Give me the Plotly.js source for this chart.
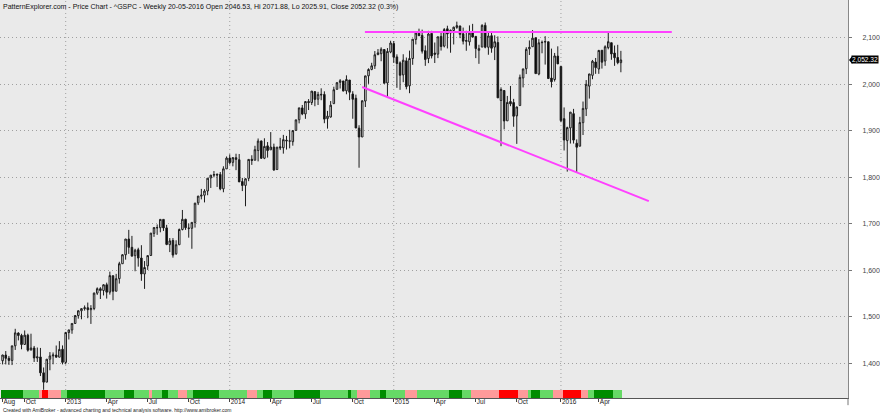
<!DOCTYPE html>
<html><head><meta charset="utf-8">
<script src="https://cdn.plot.ly/plotly-3.0.1.min.js"></script>
<style>html,body{margin:0;padding:0;background:#fff;}#chart{width:880px;height:413px;}</style>
</head><body><div id="chart"></div>
<script>
// ---- data (weekly ^GSPC, first bar week ending 2012-08-17) ----
const startDate = '2012-08-17';
const opens = [
1405.9,1418.1,1411.1,1406.5,1438.0,1465.4,1460.3,1440.9,1460.9,1428.8,
1433.2,1411.9,1414.0,1379.9,1359.9,1409.2,1416.3,1418.1,1413.5,1430.6,
1402.4,1466.5,1472.1,1486.0,1503.0,1513.2,1517.9,1519.8,1515.6,1518.2,
1551.2,1560.7,1556.9,1569.2,1553.3,1588.6,1555.3,1582.3,1614.4,1633.7,
1667.5,1649.6,1631.7,1644.5,1626.7,1592.4,1609.8,1632.0,1679.6,1692.1,
1691.7,1709.7,1691.4,1655.3,1664.3,1635.9,1655.2,1688.0,1709.9,1691.0,
1690.5,1703.2,1745.2,1759.7,1761.6,1770.7,1798.8,1804.8,1806.6,1806.4,
1775.4,1818.3,1841.5,1832.3,1842.3,1837.9,1791.0,1782.7,1798.0,1838.8,
1836.8,1857.7,1878.3,1841.1,1867.7,1859.2,1865.1,1816.8,1865.8,1863.6,
1880.0,1878.3,1876.7,1900.9,1923.9,1949.3,1936.3,1962.9,1960.8,1984.2,
1968.0,1976.9,1978.3,1926.3,1929.8,1958.4,1989.3,2004.1,2007.2,1986.0,
2009.1,1979.0,1970.0,1905.7,1886.8,1964.0,2018.2,2032.0,2039.7,2064.0,
2065.8,2074.8,2002.9,2069.3,2087.6,2058.9,2046.1,2020.2,2050.4,1996.7,
2055.5,2096.5,2109.8,2105.2,2072.3,2055.4,2109.3,2064.1,2064.9,2102.9,
2082.1,2119.3,2110.2,2115.6,2122.3,2125.3,2108.6,2092.3,2091.3,2110.6,
2103.0,2073.0,2080.0,2126.8,2079.6,2104.5,2080.0,2089.7,1965.2,1986.7,
1921.5,1963.1,1960.8,1932.2,1954.3,2013.7,2033.5,2076.3,2080.8,2100.0,
2022.1,2089.4,2090.9,2091.4,2013.4,2010.3,2060.6,2038.2,1926.1,1878.9,
1906.3,1936.9,1873.3,1867.0,1917.6,1947.1,1996.1,2019.3,2047.9,2032.9,
2073.2,2050.1,2078.8,2089.4,2067.2,2057.6,2046.53];
const highs = [
1418.7,1426.7,1416.2,1438.0,1474.5,1467.1,1463.8,1471.0,1464.0,1464.0,
1437.7,1434.3,1433.4,1391.4,1409.2,1424.5,1423.7,1438.6,1448.0,1438.8,
1467.9,1472.3,1486.0,1503.3,1514.4,1518.3,1524.7,1530.9,1525.3,1552.5,
1563.6,1564.0,1570.3,1573.7,1597.4,1588.9,1592.6,1618.5,1635.0,1667.5,
1687.2,1674.2,1646.5,1648.7,1654.2,1620.1,1631.9,1680.2,1693.1,1698.8,
1709.7,1709.7,1697.9,1669.5,1669.5,1664.8,1690.0,1729.9,1711.0,1700.7,
1703.4,1745.3,1759.8,1775.2,1774.5,1798.2,1804.8,1813.6,1808.4,1811.5,
1823.8,1844.9,1849.4,1843.2,1850.8,1850.2,1798.8,1798.0,1838.6,1847.5,
1867.9,1883.6,1878.9,1884.0,1875.9,1897.3,1872.5,1865.4,1884.9,1891.3,
1889.1,1902.2,1901.3,1924.0,1949.4,1955.6,1963.9,1968.2,1985.6,1985.6,
1983.9,1991.4,1984.9,1942.9,1964.0,1994.8,2005.0,2011.2,2007.2,2019.3,
2009.1,1985.2,1977.8,1912.1,1965.3,2018.2,2034.3,2046.2,2071.5,2075.8,
2079.5,2075.8,2077.9,2093.6,2093.0,2064.4,2049.3,2064.6,2057.6,2072.4,
2097.0,2110.6,2119.6,2117.5,2083.5,2114.9,2114.9,2089.8,2102.6,2111.9,
2120.9,2125.9,2117.7,2123.9,2134.7,2126.2,2121.9,2115.0,2126.6,2129.9,
2103.0,2085.0,2129.2,2132.8,2114.2,2112.7,2105.4,2102.9,1993.5,1986.7,
1975.0,1996.5,1968.7,1951.4,2020.9,2033.5,2079.7,2094.3,2116.5,2100.0,
2097.1,2094.1,2103.4,2091.5,2076.7,2067.4,2081.6,2038.2,1950.3,1908.9,
1940.2,1947.2,1881.6,1930.1,1963.0,2009.1,2022.4,2052.4,2056.6,2074.0,
2073.2,2083.8,2111.1,2089.4,2083.4,2084.9,2071.88];
const lows = [
1398.0,1398.0,1397.0,1396.6,1429.1,1449.6,1430.5,1440.9,1425.5,1428.6,
1403.3,1403.3,1373.0,1343.4,1359.9,1385.4,1398.2,1412.9,1413.5,1398.1,
1398.1,1451.6,1463.8,1485.0,1496.3,1495.0,1513.6,1497.3,1485.0,1514.5,
1547.4,1538.6,1546.2,1539.5,1548.0,1536.0,1555.3,1571.7,1614.4,1623.1,
1635.5,1630.7,1598.2,1608.1,1577.7,1560.3,1601.1,1632.0,1672.1,1676.5,
1681.9,1684.9,1654.2,1639.4,1627.5,1633.4,1655.2,1686.0,1687.1,1670.4,
1646.5,1692.1,1740.5,1752.7,1746.2,1761.6,1777.2,1800.1,1779.4,1772.3,
1768.0,1818.3,1827.7,1823.7,1815.5,1790.3,1770.5,1737.9,1791.8,1826.8,
1836.8,1834.4,1839.6,1839.2,1842.5,1859.2,1814.4,1816.3,1858.7,1851.0,
1859.8,1862.4,1868.1,1900.9,1916.0,1933.6,1925.8,1944.7,1955.6,1952.9,
1955.5,1965.8,1916.4,1904.8,1928.3,1958.4,1988.6,1991.0,1985.2,1978.6,
1966.0,1926.0,1906.1,1820.7,1886.8,1951.2,2001.0,2030.2,2033.0,2062.3,
2049.6,2002.1,1972.6,2066.8,2046.0,1992.4,1988.1,2004.5,1989.2,1980.9,
2041.9,2085.6,2103.8,2066.1,2039.7,2045.5,2055.6,2045.8,2056.3,2072.5,
2079.3,2077.1,2067.9,2085.6,2119.3,2099.2,2085.7,2072.1,2083.3,2101.1,
2056.3,2044.0,2080.0,2077.4,2063.5,2067.9,2052.1,1970.9,1867.0,1903.1,
1921.5,1953.0,1908.8,1872.0,1954.3,1993.3,2022.0,2063.0,2080.8,2022.9,
2019.4,2066.7,2042.4,2012.4,1993.3,2005.9,2043.6,1918.5,1857.8,1812.3,
1872.7,1872.7,1810.1,1866.8,1891.0,1931.8,1969.3,2010.9,2022.5,2022.5,
2033.8,2039.7,2075.2,2052.7,2039.7,2043.1,2025.91];
const closes = [
1418.2,1411.1,1406.6,1437.9,1465.8,1460.2,1440.7,1460.9,1428.6,1433.2,
1411.9,1414.2,1379.9,1359.9,1409.2,1416.2,1418.1,1413.6,1430.2,1402.4,
1466.5,1472.1,1486.0,1503.0,1513.2,1517.9,1519.8,1515.6,1518.2,1551.2,
1560.7,1556.9,1569.2,1553.3,1588.9,1555.3,1582.2,1614.4,1633.7,1667.5,
1649.6,1630.7,1643.4,1626.7,1592.4,1606.3,1631.9,1680.2,1692.1,1691.7,
1709.7,1691.4,1655.8,1663.5,1633.0,1655.2,1688.0,1709.9,1691.8,1690.5,
1703.2,1744.5,1759.8,1761.6,1770.6,1798.2,1804.8,1805.8,1805.1,1775.3,
1818.3,1841.4,1831.4,1842.4,1838.7,1790.3,1782.6,1797.0,1838.6,1836.3,
1859.5,1878.0,1841.1,1866.5,1857.6,1865.1,1815.7,1864.9,1863.4,1881.1,
1878.5,1877.9,1900.5,1923.6,1949.4,1936.2,1962.9,1961.0,1985.4,1967.6,
1978.2,1978.3,1925.2,1931.6,1955.1,1988.4,2003.4,2007.7,1985.5,2010.4,
1982.9,1967.9,1906.1,1886.8,1964.6,2018.1,2031.9,2039.8,2063.5,2067.6,
2075.4,2002.3,2070.7,2088.8,2058.2,2044.8,2019.4,2051.8,1995.0,2055.5,
2097.0,2110.3,2104.5,2071.3,2053.4,2108.1,2061.0,2067.0,2102.1,2081.2,
2117.7,2108.3,2116.1,2122.7,2126.1,2107.4,2092.8,2094.1,2110.0,2101.5,
2076.8,2076.6,2126.6,2079.7,2103.8,2077.6,2091.5,1970.9,1988.9,1921.2,
1961.1,1958.0,1931.3,1951.4,2014.9,2033.1,2075.2,2079.4,2099.2,2023.0,
2089.2,2090.1,2091.7,2012.4,2005.6,2061.0,2043.9,1922.0,1880.3,1906.9,
1940.2,1880.1,1864.8,1917.8,1948.1,2000.0,2022.2,2049.6,2035.9,2072.8,
2047.6,2080.7,2091.6,2065.3,2057.1,2046.6,2052.32];

// indicator ribbon: [state, number of weeks]  D=dark green, L=light green, P=pink, R=red
const ribbonRuns = [
['D',7],['L',5],['P',1],['R',2],['P',4],['L',2],['D',12],['L',6],['D',3],['L',5],
['P',1],['L',3],['D',2],['L',3],['P',3],['L',2],['D',8],['L',9],['P',3],['L',2],
['D',3],['L',7],['D',8],['L',9],['D',1],['L',2],['P',4],['L',3],['D',2],['L',6],
['P',4],['L',10],['D',4],['L',3],['P',9],['R',6],['P',3],['L',1],['D',3],['L',4],
['P',3],['R',6],['P',2],['L',2],['D',6],['L',3]];
const ribbonColors = {D:'#008c00', L:'#66d966', P:'#ff9a9a', R:'#ff0000'};

const tickDates = ['2012-08-17','2012-10-05','2013-01-04','2013-04-05','2013-07-05','2013-10-04',
 '2014-01-03','2014-04-04','2014-07-04','2014-10-03','2015-01-02','2015-04-03','2015-07-03',
 '2015-10-02','2016-01-08','2016-04-01'];
const tickLabels = ['Aug','Oct','2013','Apr','Jul','Oct','2014','Apr','Jul','Oct','2015','Apr','Jul','Oct','2016','Apr'];
const yearTickDates = ['2013-01-04','2014-01-03','2015-01-02','2016-01-08'];
const yTicks = [1400,1500,1600,1700,1800,1900,2000,2100];

const resistanceDates = ['2014-10-30','2016-09-10'];
const resistanceValues = [2112.4, 2112.4];
const supportDates = ['2014-10-24','2016-07-21'];
const supportValues = [1994.2, 1749.0];
const lastClose = 2052.32;

const titleText = 'PatternExplorer.com - Price Chart - ^GSPC - Weekly 20-05-2016 Open 2046.53, Hi 2071.88, Lo 2025.91, Close 2052.32 (0.3%)';
const creditText = 'Created with AmiBroker - advanced charting and technical analysis software. http://www.amibroker.com';

// ---- build ----
const DAY = 86400000, WEEK = 7*DAY;
const t0 = Date.parse(startDate + 'T00:00:00Z');
const fmt = t => new Date(t).toISOString().replace('T',' ').slice(0,19);
const dates = opens.map((_, i) => fmt(t0 + i*WEEK).slice(0,10));
const states = [];
ribbonRuns.forEach(([s, n]) => { for (let k = 0; k < n; k++) states.push(s); });

const yMin = 1325.8, yMax = 2181.2;

const traces = [
 {type:'candlestick', x:dates, open:opens, high:highs, low:lows, close:closes,
  increasing:{line:{color:'#1c1c1c', width:1}, fillcolor:'#ffffff'},
  decreasing:{line:{color:'#1c1c1c', width:1}, fillcolor:'#000000'},
  whiskerwidth:0, hoverinfo:'skip', showlegend:false},
 {type:'bar', x:dates.slice(0, states.length), y:states.map(() => 1), yaxis:'y2',
  width:WEEK, marker:{color:states.map(s => ribbonColors[s]), line:{width:0}},
  hoverinfo:'skip', showlegend:false},
 {type:'scatter', mode:'lines', x:resistanceDates, y:resistanceValues,
  line:{color:'#ff40ff', width:2}, hoverinfo:'skip', showlegend:false},
 {type:'scatter', mode:'lines', x:supportDates, y:supportValues,
  line:{color:'#ff40ff', width:2}, hoverinfo:'skip', showlegend:false}
];

const shapes = yearTickDates.map(d => ({type:'line', xref:'x', yref:'paper', x0:d, x1:d, y0:0, y1:1,
  line:{color:'#a0a0a0', width:1, dash:'1px,3px'}, layer:'below'}));
// right axis extension below the x axis
shapes.push({type:'line', xref:'paper', yref:'paper', x0:1, x1:1, y0:0, y1:-0.018, line:{color:'#777', width:1}});
// price marker arrow
const py = (lastClose - yMin)/(yMax - yMin), ph = 4/398;
shapes.push({type:'path', xref:'paper', yref:'paper',
  path:`M 1.0012 ${py} L 1.0050 ${py+ph} L 1.0050 ${py-ph} Z`, fillcolor:'#000', line:{width:0}});

const layout = {
 width:880, height:413, margin:{l:0, r:32, t:0, b:15},
 paper_bgcolor:'#ffffff', plot_bgcolor:'#eaeaea', showlegend:false,
 font:{family:'"Liberation Sans", Arial, sans-serif', size:7, color:'#222'},
 bargap:0,
 xaxis:{type:'date', range:[fmt(t0 - 0.824*WEEK), fmt(t0 + 268*WEEK)],
  tickmode:'array', tickvals:tickDates, ticktext:tickLabels,
  ticks:'outside', ticklen:3, tickcolor:'#444', ticklabelposition:'outside right',
  ticklabelstandoff:-3,
  showgrid:false, showline:true, linecolor:'#555', linewidth:1, zeroline:false,
  tickfont:{size:6.5, color:'#222'}, rangeslider:{visible:false}, fixedrange:true},
 yaxis:{side:'right', range:[yMin, yMax], tickmode:'array', tickvals:yTicks, tickformat:',d',
  showgrid:true, gridcolor:'#a0a0a0', griddash:'1px,3px', gridwidth:1,
  ticks:'outside', ticklen:3, tickcolor:'#777', showline:true, linecolor:'#888', linewidth:1,
  zeroline:false, tickfont:{size:7, color:'#444'}, ticklabelstandoff:9, fixedrange:true},
 yaxis2:{overlaying:'y', range:[0, 49.75], visible:false, fixedrange:true},
 shapes:shapes,
 annotations:[
  {xref:'paper', yref:'paper', x:0, y:1, xanchor:'left', yanchor:'top', xshift:1, yshift:-1,
   text:titleText, showarrow:false, font:{size:7, color:'#111'}},
  {xref:'paper', yref:'paper', x:0, y:0, xanchor:'left', yanchor:'middle', xshift:1, yshift:-12,
   text:creditText, showarrow:false, font:{size:5, color:'#222'}},
  {xref:'paper', yref:'y', x:1, y:lastClose, xanchor:'left', yanchor:'middle', xshift:3,
   text:'2,052.32', showarrow:false, bgcolor:'#000', borderpad:0, font:{size:6.6, color:'#fff'}}
 ]
};

Plotly.newPlot('chart', traces, layout, {displayModeBar:false, staticPlot:true});
</script></body></html>
